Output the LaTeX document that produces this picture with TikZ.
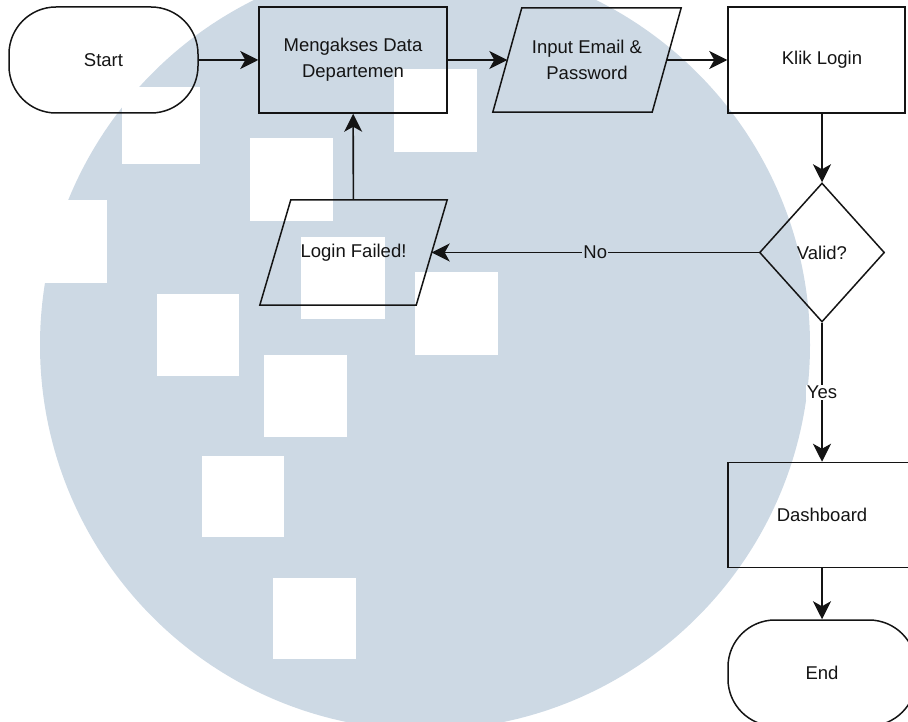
\documentclass[tikz,border=0pt]{standalone}
\usepackage{fontspec}
\setmainfont{Liberation Sans}
\usetikzlibrary{arrows.meta,shapes.geometric}
\definecolor{wm}{RGB}{205,217,228}
\definecolor{ink}{RGB}{20,20,20}
\begin{document}
\begin{tikzpicture}[x=1pt,y=-1pt,
  every node/.style={font=\fontsize{18.5}{26}\selectfont, text=ink, align=center},
  box/.style={draw=ink, line width=1.5pt, rectangle, inner sep=0pt},
  term/.style={box, rounded corners=47pt, minimum width=189pt, minimum height=106pt},
  proc/.style={box, minimum width=188pt, minimum height=106pt},
  io/.style={rectangle, inner sep=0pt, minimum height=104pt},
  iodraw/.style={draw=ink, line width=1.5pt, line join=miter},
  dec/.style={box, diamond, minimum width=125pt, minimum height=139pt},
  conn/.style={draw=ink, line width=1.6pt, -{Stealth[length=18pt,width=18pt,inset=5pt]}},
  lbl/.style={inner sep=1pt, font=\fontsize{18.5}{22}\selectfont}
]
\useasboundingbox (0,0) rectangle (908,722);
\clip (0,0) rectangle (908,722);
% watermark
\fill[wm] (425,345) circle (385pt);
\fill[white] (122,87) rectangle (200,164);
\fill[white] (250,138) rectangle (333,221);
\fill[white] (394,69) rectangle (477,152);
\fill[white] (20,200) rectangle (107,283);
\fill[white] (157,294) rectangle (239,376);
\fill[white] (301,237) rectangle (385,319);
\fill[white] (415,272) rectangle (498,355);
\fill[white] (264,355) rectangle (347,437);
\fill[white] (202,456) rectangle (284,537);
\fill[white] (273,578) rectangle (356,659);

% nodes
\node[term] (start) at (103.5,60) {Start};
\node[proc] (meng) at (353,60) {Mengakses Data\\Departemen};
\node[io, minimum width=159pt] (inp) at (587,60) {Input Email \&\\Password};
\draw[iodraw] ([xshift=14.5pt]inp.north west) -- ([xshift=14.5pt]inp.north east)
  -- ([xshift=-14.5pt]inp.south east) -- ([xshift=-14.5pt]inp.south west) -- cycle;
\node[box, minimum width=177pt, minimum height=106pt] (klik) at (816.5,60) {};
\node (kliktext) at (822,60) {Klik Login};
\node[dec] (valid) at (822,252.5) {Valid?};
\node[io, minimum width=156pt, minimum height=105pt] (fail) at (353.5,252.5) {Login Failed!};
\draw[iodraw] ([xshift=15.5pt]fail.north west) -- ([xshift=15.5pt]fail.north east)
  -- ([xshift=-15.5pt]fail.south east) -- ([xshift=-15.5pt]fail.south west) -- cycle;
\node[proc, minimum height=105pt] (dash) at (822,515) {Dashboard};
\node[term, minimum width=188pt] (end) at (822,673) {End};

% connectors
\draw[conn] (start) -- (meng);
\draw[conn] (meng) -- (inp);
\draw[conn] (inp) -- (klik);
\draw[conn] (klik.south -| valid.north) -- (valid.north);
\draw[conn] (valid) -- node[lbl, fill=wm] {No} (fail);
\draw[conn] (fail) -- (meng);
\draw[conn] (valid) -- node[lbl, fill=white] {Yes} (dash);
\draw[conn] (dash) -- (end);
\end{tikzpicture}
\end{document}
